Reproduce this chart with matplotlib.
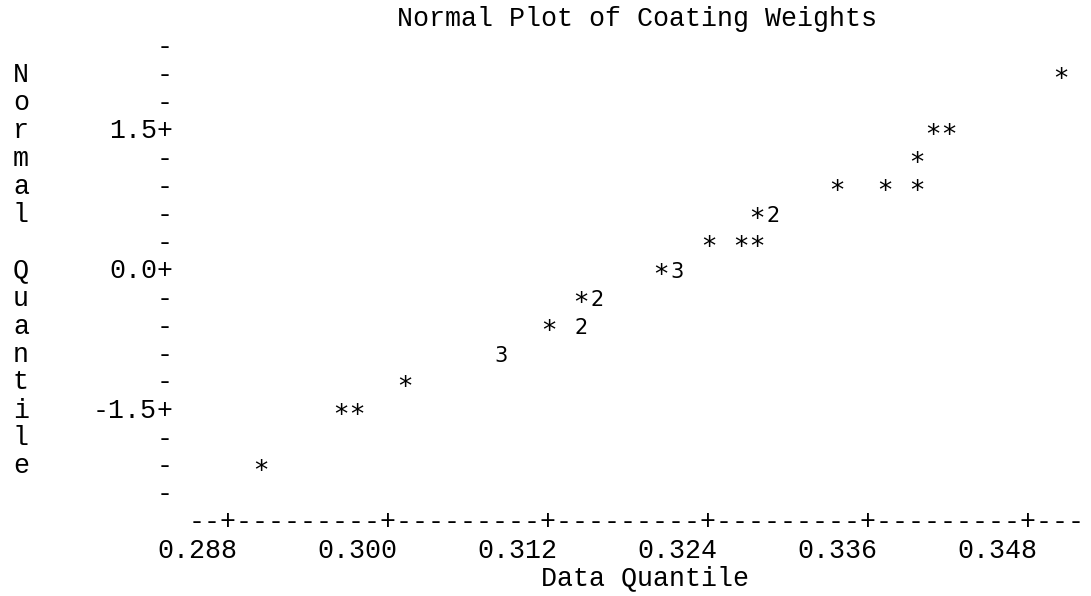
import matplotlib
matplotlib.use("Agg")
import matplotlib.pyplot as plt
import numpy as np

# ---------------- data ----------------
title = "Normal Plot of Coating Weights"
x_label = "Data Quantile"
y_label = "Normal Quantile"
x_ticks = [0.288, 0.300, 0.312, 0.324, 0.336, 0.348]
y_ticks = [1.5, 0.0, -1.5]

# plotted symbols: data quantile, normal quantile, number of observations
sym_x = [0.2904, 0.2964, 0.2976, 0.3012, 0.3084, 0.3120, 0.3144, 0.3144,
         0.3156, 0.3204, 0.3216, 0.3240, 0.3264, 0.3276, 0.3276, 0.3288,
         0.3336, 0.3372, 0.3396, 0.3396, 0.3408, 0.3420, 0.3504]
sym_y = [-2.1, -1.5, -1.5, -1.2, -0.9, -0.6, -0.6, -0.3,
         -0.3, 0.0, 0.0, 0.3, 0.3, 0.3, 0.6, 0.6,
         0.9, 0.9, 0.9, 1.2, 1.5, 1.5, 2.1]
sym_n = [1, 1, 1, 1, 3, 1, 2, 1,
         2, 1, 3, 1, 1, 1, 1, 2,
         1, 1, 1, 1, 1, 1, 1]

# ---------------- character grid geometry ----------------
W, H, DPI = 1091, 596, 100
CW, RH = 16.0, 28.0              # character cell width / row height (px)
DX, DY = 0.0012, 0.3             # data units per column / per row
x_per_px = DX / CW
y_per_px = DY / RH
X0_PX = 229.0                    # pixel x of 0.288
Y0_PX = 269.0                    # pixel y (from top) of 0.0

fig = plt.figure(figsize=(W / DPI, H / DPI), dpi=DPI)
fig.patch.set_facecolor("white")
ax = fig.add_axes([0, 0, 1, 1])
ax.set_xlim(x_ticks[0] - X0_PX * x_per_px, x_ticks[0] + (W - X0_PX) * x_per_px)
ax.set_ylim(-(H - Y0_PX) * y_per_px, Y0_PX * y_per_px)
ax.axis("off")

MONO = "Liberation Mono"
MSIZE = CW / 0.6 * 72 / DPI      # font size giving a 16 px advance
SANS = "DejaVu Sans"
BASE_OFF = 8.5 * y_per_px        # baseline below row centre for mono text


def col_x(k):
    """x data value of character column k (column 13 = first tick)."""
    return x_ticks[0] + (k - 13) * DX


def mono(x, y, s, ha="center"):
    ax.text(x, y - BASE_OFF, s, fontfamily=MONO, fontsize=MSIZE,
            ha=ha, va="baseline", color="black")


# title (row 0) and x label (row 20)
mono(col_x(38.5), 9 * DY, title)
mono(col_x(39), -11 * DY, x_label)

# vertical axis: rows from 2.4 down to -2.4
axis_col_x = col_x(9)
for r in range(1, 18):
    yv = round((9 - r) * DY, 2)
    is_tick = any(abs(yv - t) < 1e-9 for t in y_ticks)
    mono(axis_col_x, yv, "+" if is_tick else "-")
    if is_tick:
        mono(axis_col_x - DX / 2, yv, f"{yv:.1f}", ha="right")

# y label: one letter per row in column 0, starting at row 2
for i, ch in enumerate(y_label):
    if ch != " ":
        mono(col_x(0), (9 - (2 + i)) * DY, ch)

# horizontal axis line (row 18) and tick labels (row 19)
cols = range(11, 67)
line = "".join("+" if any(abs(col_x(k) - t) < 1e-9 for t in x_ticks) else "-"
               for k in cols)
mono(col_x(11) - DX / 2, -9 * DY, line, ha="left")
for t in x_ticks:
    mono(t + DX / 2, -10 * DY, f"{t:.3f}", ha="right")

# plotted symbols ('*' = one observation, digit = number of observations)
for x, y, n in zip(sym_x, sym_y, sym_n):
    if n == 1:
        lab, size, off = "*", 19, 14.0
    else:
        lab, size, off = str(n), 15, 9.0
    ax.text(x, y - off * y_per_px, lab, fontfamily=SANS, fontsize=size,
            ha="center", va="baseline", color="black")

fig.savefig("out.png", dpi=DPI, facecolor="white")
